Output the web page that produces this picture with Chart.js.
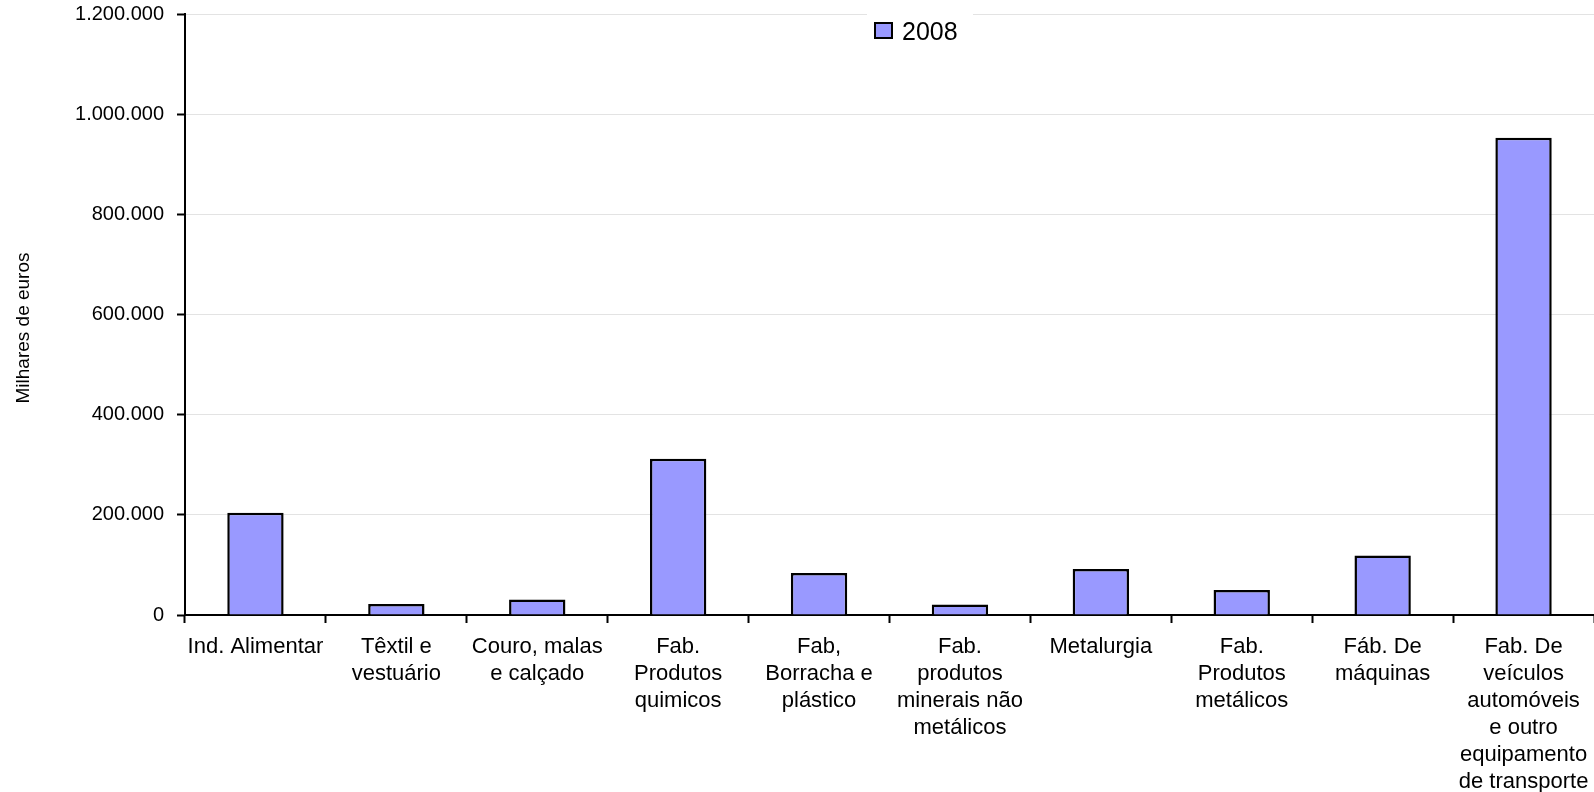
<!DOCTYPE html>
<html>
<head>
<meta charset="utf-8">
<script src="https://cdn.jsdelivr.net/npm/chart.js@4.4.1/dist/chart.umd.min.js"></script>
<style>
  html, body { margin: 0; padding: 0; background: #fff; }
  #wrap { position: relative; width: 1594px; height: 792px; }
</style>
</head>
<body>
<div id="wrap"><canvas id="c"></canvas></div>
<script>
// Sectors (multi-line labels) and 2008 values, in thousands of euros
const categories = [
  ["Ind. Alimentar"],
  ["Têxtil e", "vestuário"],
  ["Couro, malas", "e calçado"],
  ["Fab.", "Produtos", "quimicos"],
  ["Fab,", "Borracha e", "plástico"],
  ["Fab.", "produtos", "minerais não", "metálicos"],
  ["Metalurgia"],
  ["Fab.", "Produtos", "metálicos"],
  ["Fáb. De", "máquinas"],
  ["Fab. De", "veículos", "automóveis", "e outro", "equipamento", "de transporte"]
];
const seriesLabel = "2008";
const values2008 = [204000, 22000, 31000, 312000, 84000, 21000, 92000, 50000, 119000, 953000];
const yTicks = [0, 200000, 400000, 600000, 800000, 1000000, 1200000];
const yTitle = "Milhares de euros";

const FONT = "'Liberation Sans', Arial, sans-serif";

function fmt(v) {
  return String(v).replace(/\B(?=(\d{3})+(?!\d))/g, ".");
}

// Legend over the top of the plot on a white patch, plus the rotated axis title
const overlayPlugin = {
  id: 'overlay',
  afterDraw(chart) {
    const ctx = chart.ctx;
    const ds = chart.data.datasets[0];
    ctx.save();
    ctx.fillStyle = '#fff';
    ctx.fillRect(867, 4, 106, 44);
    const bx = 875, by = 23, bw = 17, bh = 15;
    ctx.fillStyle = ds.backgroundColor;
    ctx.fillRect(bx, by, bw, bh);
    ctx.lineWidth = 2;
    ctx.strokeStyle = '#000';
    ctx.strokeRect(bx, by, bw, bh);
    ctx.fillStyle = '#000';
    ctx.font = "25px " + FONT;
    ctx.textBaseline = 'alphabetic';
    ctx.textAlign = 'left';
    ctx.fillText(ds.label, 902, 40);

    ctx.translate(24, 328);
    ctx.rotate(-Math.PI / 2);
    ctx.font = "19px " + FONT;
    ctx.textAlign = 'center';
    ctx.textBaseline = 'middle';
    ctx.fillText(yTitle, 0, 0);
    ctx.restore();
  }
};

new Chart(document.getElementById('c'), {
  type: 'bar',
  data: {
    labels: categories,
    datasets: [{
      label: seriesLabel,
      data: values2008,
      backgroundColor: '#9999FF',
      borderColor: '#000',
      borderWidth: 2.5,
      barPercentage: 0.4,
      categoryPercentage: 1.0
    }]
  },
  options: {
    responsive: true,
    maintainAspectRatio: false,
    animation: false,
    layout: { padding: { left: 0, right: 0, top: 14, bottom: 0 } },
    plugins: {
      legend: { display: false },
      tooltip: { enabled: false }
    },
    scales: {
      x: {
        offset: true,
        grid: {
          display: true,
          drawOnChartArea: false,
          offset: true,
          tickLength: 8,
          tickColor: '#000',
          tickWidth: 2
        },
        border: { color: '#000', width: 2 },
        ticks: {
          color: '#000',
          maxRotation: 0,
          minRotation: 0,
          autoSkip: false,
          padding: 10,
          font: { family: FONT, size: 22, lineHeight: 27 / 22 }
        },
        afterFit(scale) {
          scale.height = 177;
          scale.paddingLeft = 0;
          scale.paddingRight = 0;
        }
      },
      y: {
        min: 0,
        max: 1200000,
        afterBuildTicks(scale) { scale.ticks = yTicks.map(v => ({ value: v })); },
        grid: {
          color: '#e3e3e3',
          lineWidth: 1,
          tickLength: 8,
          tickColor: '#000',
          tickWidth: 2
        },
        border: { color: '#000', width: 2 },
        ticks: {
          color: '#000',
          padding: 13,
          font: { family: FONT, size: 20 },
          callback: (v) => fmt(v)
        },
        afterFit(scale) {
          scale.width = 185;
          scale.paddingTop = 0;
          scale.paddingBottom = 0;
        }
      }
    }
  },
  plugins: [overlayPlugin]
});
</script>
</body>
</html>
